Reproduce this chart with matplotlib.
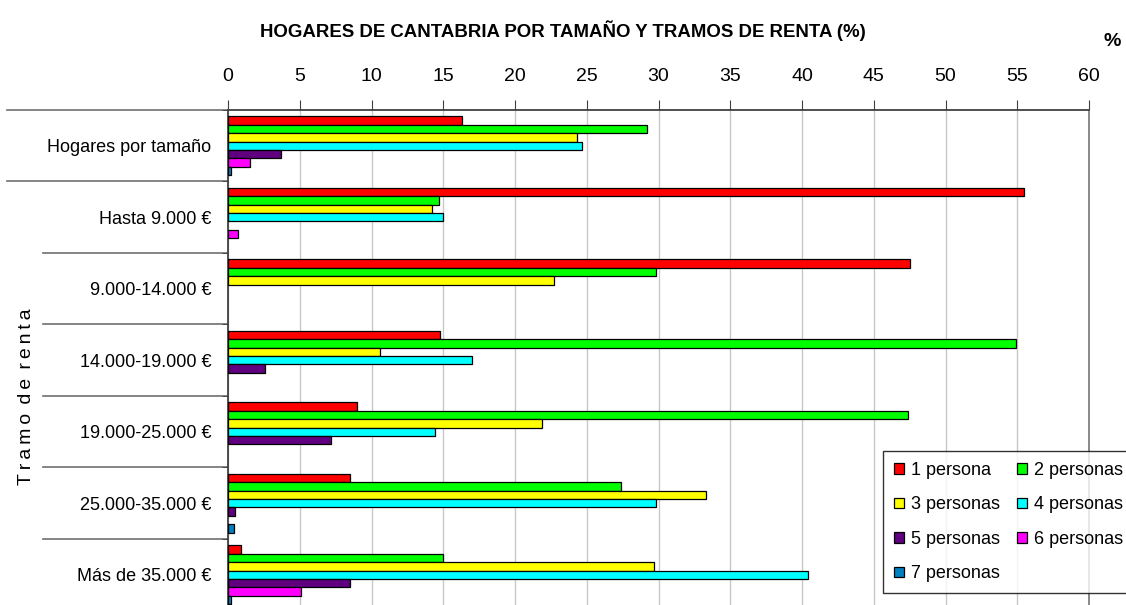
import numpy as np
import matplotlib
matplotlib.use('Agg')
import matplotlib.pyplot as plt
from matplotlib.patches import Patch

plt.rcParams['font.family'] = ['Liberation Sans', 'DejaVu Sans']

# datos (%)
categorias = ['Hogares por tamaño', 'Hasta 9.000 €', '9.000-14.000 €', '14.000-19.000 €',
              '19.000-25.000 €', '25.000-35.000 €', 'Más de 35.000 €']
p1 = [16.3, 55.5, 47.5, 14.8, 9.0, 8.5, 0.9]
p2 = [29.2, 14.7, 29.8, 54.9, 47.4, 27.4, 15.0]
p3 = [24.3, 14.2, 22.7, 10.6, 21.9, 33.3, 29.7]
p4 = [24.7, 15.0, 0, 17.0, 14.4, 29.8, 40.4]
p5 = [3.7, 0, 0, 2.6, 7.2, 0.5, 8.5]
p6 = [1.5, 0.7, 0, 0, 0, 0, 5.1]
p7 = [0.2, 0, 0, 0, 0, 0.4, 0.2]
series = [p1, p2, p3, p4, p5, p6, p7]
nombres = ['1 persona', '2 personas', '3 personas', '4 personas',
           '5 personas', '6 personas', '7 personas']
colores = ['#ff0000', '#00ff00', '#ffff00', '#00ffff', '#600080', '#ff00ff', '#0080c0']
xticks = list(range(0, 61, 5))

fig = plt.figure(figsize=(11.26, 6.05), dpi=100)
# el eje se sale un poco por abajo, como en el original
ax = fig.add_axes([228 / 1126, -5.5 / 605, 861 / 1126, 500.5 / 605])

n = len(categorias)
h = 0.117
y = np.arange(n) + 0.5
for j, (vals, col) in enumerate(zip(series, colores)):
    lw = [0.9 if v > 0 else 0 for v in vals]
    ax.barh(y + (j - 3) * h, vals, height=h, color=col, edgecolor='black',
            linewidth=lw, zorder=3)

ax.set_xlim(0, 60)
ax.set_ylim(n, 0)
ax.xaxis.tick_top()
ax.set_xticks(xticks)
ax.tick_params(axis='x', which='major', direction='out', length=7, width=0.8,
               color='#404040', labelsize=14, pad=11)
ax.grid(axis='x', color='#c8c8c8', linewidth=1, zorder=0)

ax.set_yticks(y)
ax.set_yticklabels(categorias, fontsize=13)
ax.tick_params(axis='y', which='major', length=0, pad=12)
ax.set_yticks(np.arange(n + 1), minor=True)
ax.tick_params(axis='y', which='minor', length=4, color='#404040', direction='out')

for s in ['top', 'left']:
    ax.spines[s].set_color('#404040')
    ax.spines[s].set_linewidth(1.3)
ax.spines['right'].set_color('#808080')
ax.spines['right'].set_linewidth(1.3)
ax.spines['bottom'].set_visible(False)

# lineas separadoras en la zona de etiquetas
tr = ax.get_yaxis_transform()
for k in range(n):
    x0 = -0.2567 if k < 2 else -0.2149
    ax.plot([x0, 0], [k, k], transform=tr, color='#707070', linewidth=1.2,
            clip_on=False, zorder=1)

fig.text(0.5, 0.95, 'HOGARES DE CANTABRIA POR TAMAÑO Y TRAMOS DE RENTA (%)',
         ha='center', va='center', fontsize=13.4, fontweight='bold')
fig.text(1112 / 1126, 1 - 41 / 605, '%', ha='center', va='center',
         fontsize=14, fontweight='bold')
ylab = '\u2009'.join('Tramo') + ' \u2009' + '\u2009'.join('de') + ' \u2009' + '\u2009'.join('renta')
fig.text(27 / 1126, 1 - 397 / 605, ylab, rotation=90,
         ha='center', va='center', fontsize=14)

handles = [Patch(facecolor=c, edgecolor='black', linewidth=0.9) for c in colores]
orden = [0, 2, 4, 6, 1, 3, 5]
leg = fig.legend([handles[i] for i in orden], [nombres[i] for i in orden],
                 ncol=2, loc='upper left', bbox_to_anchor=(883 / 1126, 1 - 451 / 605),
                 fontsize=13, frameon=True, fancybox=False, handlelength=0.55,
                 handleheight=0.55, handletextpad=0.4, columnspacing=0.95,
                 labelspacing=0.97, borderpad=0.6, borderaxespad=0)
leg.get_frame().set_edgecolor('black')
leg.get_frame().set_linewidth(1)

fig.savefig('out.png', dpi=100)
